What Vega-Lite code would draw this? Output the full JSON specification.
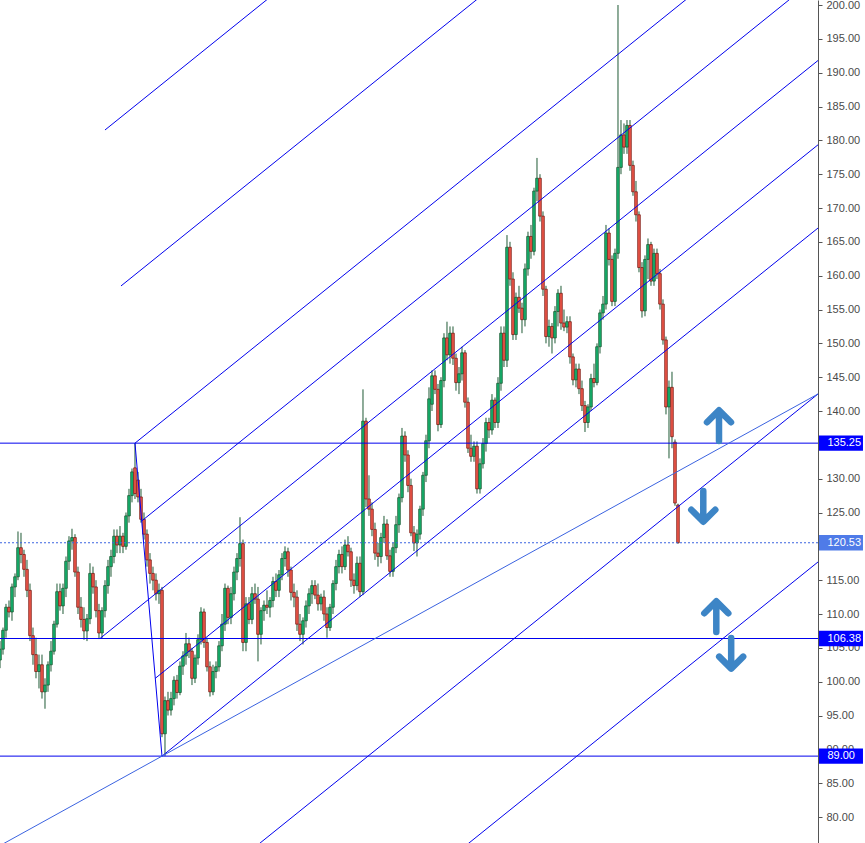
{
  "$schema": "https://vega.github.io/schema/vega-lite/v6.json",
  "width": 818,
  "height": 843,
  "autosize": "none",
  "padding": {"left": 0, "top": 0, "right": 47, "bottom": 0},
  "background": "white",
  "config": {
    "view": {"stroke": null},
    "axisY": {
      "grid": false, "zindex": 0, "format": ".2f", "labelFont": "Liberation Sans", "labelFontSize": 11, "labelColor": "#4a4a4a",
      "domainColor": "#555555", "tickColor": "#555555", "tickSize": 4, "labelPadding": 4, "labelOverlap": false
    }
  },
  "datasets": {
    "candles": [
      {"t":0,"o":103.2,"h":106,"l":102,"c":104.8},{"t":1,"o":104.8,"h":108,"l":104,"c":107.6},{"t":2,"o":107.6,"h":111.5,"l":106.5,"c":111},
      {"t":3,"o":111,"h":112,"l":109.5,"c":110.3},{"t":4,"o":110.3,"h":114.5,"l":109,"c":114},{"t":5,"o":114,"h":116,"l":112.5,"c":115.5},
      {"t":6,"o":115.5,"h":122.2,"l":115,"c":119.8},{"t":7,"o":119.8,"h":122,"l":117.5,"c":118.8},{"t":8,"o":118.8,"h":119.5,"l":115.5,"c":116.6},
      {"t":9,"o":116.6,"h":118,"l":112.5,"c":113.5},{"t":10,"o":113.5,"h":114.5,"l":106,"c":106.8},{"t":11,"o":106.8,"h":108,"l":102.5,"c":104},
      {"t":12,"o":104,"h":106.5,"l":100.5,"c":101.5},{"t":13,"o":101.5,"h":104,"l":99,"c":102.5},{"t":14,"o":102.5,"h":104,"l":97.5,"c":98.5},
      {"t":15,"o":98.5,"h":100.5,"l":96,"c":99.5},{"t":16,"o":99.5,"h":103,"l":98.5,"c":102.5},{"t":17,"o":102.5,"h":106,"l":101.5,"c":104.5},
      {"t":18,"o":104.5,"h":109,"l":104,"c":108.5},{"t":19,"o":108.5,"h":114.5,"l":108,"c":113.3},{"t":20,"o":113.3,"h":114.5,"l":110.5,"c":111.2},
      {"t":21,"o":111.2,"h":114.5,"l":110,"c":113.8},{"t":22,"o":113.8,"h":118.5,"l":112.5,"c":117.8},{"t":23,"o":117.8,"h":121.5,"l":116.5,"c":120.8},
      {"t":24,"o":120.8,"h":122.6,"l":119.5,"c":121.3},{"t":25,"o":121.3,"h":121.8,"l":115.5,"c":116.2},{"t":26,"o":116.2,"h":117,"l":110,"c":111},
      {"t":27,"o":111,"h":112.5,"l":108,"c":109.2},{"t":28,"o":109.2,"h":111,"l":106.2,"c":107.5},{"t":29,"o":107.5,"h":110,"l":106,"c":109.3},
      {"t":30,"o":109.3,"h":117.5,"l":108.5,"c":116},{"t":31,"o":116,"h":117,"l":113,"c":114},{"t":32,"o":114,"h":115,"l":109.5,"c":110.5},
      {"t":33,"o":110.5,"h":111.5,"l":106.3,"c":107.2},{"t":34,"o":107.2,"h":111,"l":106.4,"c":110.5},{"t":35,"o":110.5,"h":115,"l":109.5,"c":114.2},
      {"t":36,"o":114.2,"h":118,"l":113,"c":117},{"t":37,"o":117,"h":119.5,"l":115.5,"c":118.5},{"t":38,"o":118.5,"h":122.5,"l":117.5,"c":121.5},
      {"t":39,"o":121.5,"h":122.5,"l":119,"c":120.2},{"t":40,"o":120.2,"h":123,"l":119,"c":121.5},{"t":41,"o":121.5,"h":122,"l":119,"c":120},
      {"t":42,"o":120,"h":125,"l":119.5,"c":124.5},{"t":43,"o":124.5,"h":128.5,"l":123.5,"c":127.5},{"t":44,"o":127.5,"h":131.5,"l":126.5,"c":131},
      {"t":45,"o":131.6,"h":135.25,"l":127,"c":127.8},{"t":46,"o":129.8,"h":131,"l":126.5,"c":127.3},{"t":47,"o":127.3,"h":128.5,"l":123.5,"c":124},
      {"t":48,"o":124,"h":125,"l":121,"c":121.8},{"t":49,"o":121.8,"h":122.5,"l":117,"c":118},{"t":50,"o":118,"h":119,"l":114.5,"c":116},
      {"t":51,"o":116,"h":117,"l":113.5,"c":115},{"t":52,"o":115,"h":116,"l":112,"c":113},{"t":53,"o":113,"h":114.5,"l":111.5,"c":113.5},
      {"t":54,"o":113.5,"h":114,"l":91.8,"c":92.3},{"t":55,"o":92.3,"h":97.8,"l":89,"c":97.2},{"t":56,"o":97.2,"h":98.5,"l":95,"c":95.8},
      {"t":57,"o":95.8,"h":98.5,"l":95,"c":97.5},{"t":58,"o":97.5,"h":100.8,"l":96.5,"c":100.2},{"t":59,"o":100.2,"h":101,"l":97.5,"c":98.4},
      {"t":60,"o":98.4,"h":103,"l":98,"c":102.3},{"t":61,"o":102.3,"h":104.5,"l":101,"c":103.8},{"t":62,"o":103.8,"h":107.2,"l":102.5,"c":105.6},
      {"t":63,"o":105.6,"h":106.5,"l":103.5,"c":104.5},{"t":64,"o":104.5,"h":105,"l":99.5,"c":100.5},{"t":65,"o":100.5,"h":104,"l":99.8,"c":103.5},
      {"t":66,"o":103.5,"h":107,"l":102.5,"c":106.2},{"t":67,"o":106.2,"h":111,"l":105.5,"c":110.3},{"t":68,"o":110.3,"h":110.8,"l":105,"c":105.8},
      {"t":69,"o":105.8,"h":106.5,"l":101.5,"c":102.2},{"t":70,"o":102.2,"h":103,"l":97.8,"c":98.5},{"t":71,"o":98.5,"h":102.5,"l":98,"c":101.5},
      {"t":72,"o":101.5,"h":103,"l":100.5,"c":102.2},{"t":73,"o":102.2,"h":106,"l":101.5,"c":105.3},{"t":74,"o":105.3,"h":110,"l":104.5,"c":108.5},
      {"t":75,"o":108.5,"h":114.5,"l":107.5,"c":113.8},{"t":76,"o":113.8,"h":114.2,"l":108.5,"c":109.5},{"t":77,"o":109.5,"h":114,"l":108.5,"c":113},
      {"t":78,"o":113,"h":117,"l":112,"c":116.2},{"t":79,"o":116.2,"h":119,"l":115,"c":118.2},{"t":80,"o":118.2,"h":124.3,"l":117,"c":120.4},
      {"t":81,"o":120.4,"h":121,"l":104.5,"c":105.8},{"t":82,"o":105.8,"h":112.5,"l":104.5,"c":111.5},{"t":83,"o":111.5,"h":112.5,"l":108.5,"c":109.2},
      {"t":84,"o":109.2,"h":114,"l":108.5,"c":113},{"t":85,"o":113,"h":114.5,"l":111.5,"c":112.2},{"t":86,"o":112.2,"h":114,"l":103,"c":107},
      {"t":87,"o":107,"h":111,"l":105.5,"c":110.5},{"t":88,"o":110.5,"h":112,"l":109,"c":111.3},{"t":89,"o":111.3,"h":113.5,"l":110,"c":111},
      {"t":90,"o":111,"h":112.5,"l":109.5,"c":112},{"t":91,"o":112,"h":115.5,"l":111,"c":114.8},{"t":92,"o":114.8,"h":116,"l":112.5,"c":113.5},
      {"t":93,"o":113.5,"h":116.5,"l":112.5,"c":115.8},{"t":94,"o":115.8,"h":119,"l":115,"c":118.2},{"t":95,"o":118.2,"h":120,"l":117,"c":119.2},
      {"t":96,"o":119.2,"h":119.8,"l":115.5,"c":116.5},{"t":97,"o":116.5,"h":117,"l":112,"c":113.2},{"t":98,"o":113.2,"h":114.5,"l":111,"c":112.5},
      {"t":99,"o":112.5,"h":113.5,"l":107.5,"c":108.5},{"t":100,"o":108.5,"h":110,"l":106,"c":107},{"t":101,"o":107,"h":109.5,"l":105.5,"c":109},
      {"t":102,"o":109,"h":112,"l":108,"c":111.2},{"t":103,"o":111.2,"h":113.8,"l":110,"c":113},{"t":104,"o":113,"h":115,"l":111.5,"c":114.2},
      {"t":105,"o":114.2,"h":115,"l":112.2,"c":112.8},{"t":106,"o":112.8,"h":114.5,"l":110.5,"c":111.5},{"t":107,"o":111.5,"h":113,"l":110.5,"c":112.5},
      {"t":108,"o":112.5,"h":113.5,"l":109,"c":110},{"t":109,"o":110,"h":111,"l":106.5,"c":108},{"t":110,"o":108,"h":111.5,"l":107.5,"c":111},
      {"t":111,"o":111,"h":115,"l":110,"c":114.5},{"t":112,"o":114.5,"h":118,"l":113.5,"c":117},{"t":113,"o":117,"h":119.5,"l":116,"c":118.8},
      {"t":114,"o":118.8,"h":120,"l":116,"c":117},{"t":115,"o":117,"h":121,"l":116.5,"c":120.2},{"t":116,"o":120.2,"h":121.5,"l":118.5,"c":119.2},
      {"t":117,"o":119.2,"h":119.8,"l":114,"c":115},{"t":118,"o":115,"h":116,"l":113,"c":114.2},{"t":119,"o":114.2,"h":118.5,"l":113.5,"c":117.5},
      {"t":120,"o":117.5,"h":118.5,"l":112.5,"c":113.3},{"t":121,"o":113.3,"h":143.2,"l":112.8,"c":138.5},{"t":122,"o":138.5,"h":139,"l":125.8,"c":127},
      {"t":123,"o":127,"h":130.5,"l":124.5,"c":125.5},{"t":124,"o":125.5,"h":126.5,"l":121.5,"c":122.5},{"t":125,"o":122.5,"h":123.5,"l":118,"c":119},
      {"t":126,"o":119,"h":120.5,"l":117,"c":118.5},{"t":127,"o":118.5,"h":122,"l":117.5,"c":121.3},{"t":128,"o":121.3,"h":124.5,"l":120.5,"c":123.3},
      {"t":129,"o":123.3,"h":124,"l":118,"c":118.6},{"t":130,"o":118.6,"h":119.5,"l":115.5,"c":116.3},{"t":131,"o":116.3,"h":120.5,"l":115.5,"c":119.8},
      {"t":132,"o":119.8,"h":124.5,"l":119,"c":123.2},{"t":133,"o":123.2,"h":127.8,"l":122,"c":127.2},{"t":134,"o":127.2,"h":137.5,"l":126.5,"c":136.3},
      {"t":135,"o":136.3,"h":137,"l":132.5,"c":133.5},{"t":136,"o":133.5,"h":134.2,"l":128,"c":129},{"t":137,"o":129,"h":130,"l":121.5,"c":122},
      {"t":138,"o":122,"h":123,"l":119.3,"c":120.5},{"t":139,"o":120.5,"h":122.5,"l":118.5,"c":121.8},{"t":140,"o":121.8,"h":126,"l":121,"c":125.5},
      {"t":141,"o":125.5,"h":131,"l":124.5,"c":130.5},{"t":142,"o":130.5,"h":136.5,"l":129.5,"c":135.6},{"t":143,"o":135.6,"h":143.5,"l":134.5,"c":141.8},
      {"t":144,"o":141,"h":146,"l":140,"c":145.2},{"t":145,"o":145.2,"h":146,"l":142.5,"c":143.2},{"t":146,"o":143.2,"h":144,"l":137,"c":138},
      {"t":147,"o":138,"h":145,"l":137.5,"c":144.5},{"t":148,"o":144.5,"h":151.5,"l":143.5,"c":150.8},{"t":149,"o":150.8,"h":153.2,"l":147.5,"c":148.3},
      {"t":150,"o":148.3,"h":152.5,"l":147,"c":151.5},{"t":151,"o":151.5,"h":152.5,"l":146.8,"c":147.8},{"t":152,"o":147.8,"h":148.5,"l":143,"c":144.2},
      {"t":153,"o":144.2,"h":146.5,"l":142.5,"c":145.5},{"t":154,"o":145.5,"h":149.5,"l":144.5,"c":148.6},{"t":155,"o":148.6,"h":149,"l":140.5,"c":141.3},
      {"t":156,"o":141.3,"h":142,"l":133.8,"c":134.5},{"t":157,"o":134.5,"h":136.5,"l":132.5,"c":133.3},{"t":158,"o":133.3,"h":135.5,"l":132.5,"c":134.8},
      {"t":159,"o":134.8,"h":135.5,"l":127.8,"c":128.5},{"t":160,"o":128.5,"h":133,"l":127.8,"c":132.2},{"t":161,"o":132.2,"h":136,"l":131.5,"c":135.2},
      {"t":162,"o":135.2,"h":139,"l":134,"c":138.3},{"t":163,"o":138.3,"h":139,"l":136,"c":137.2},{"t":164,"o":137.2,"h":142.5,"l":136.5,"c":141.6},
      {"t":165,"o":141.6,"h":142,"l":137.5,"c":138.3},{"t":166,"o":138.3,"h":145,"l":137.5,"c":144.1},{"t":167,"o":144.1,"h":152.5,"l":143,"c":151.5},
      {"t":168,"o":151.5,"h":152.5,"l":146.5,"c":147.5},{"t":169,"o":147.5,"h":166,"l":146.5,"c":164.2},{"t":170,"o":164.2,"h":165,"l":158.5,"c":159.5},
      {"t":171,"o":159.5,"h":160.5,"l":150.5,"c":151.3},{"t":172,"o":151.3,"h":157.5,"l":150.5,"c":156.8},{"t":173,"o":156.8,"h":158.5,"l":154.5,"c":155.2},
      {"t":174,"o":155.2,"h":156,"l":151.5,"c":153.5},{"t":175,"o":153.5,"h":161.8,"l":152.5,"c":161},{"t":176,"o":161,"h":166.5,"l":160,"c":165.8},
      {"t":177,"o":165.8,"h":167.5,"l":162.5,"c":163.6},{"t":178,"o":163.6,"h":173,"l":163,"c":172.5},{"t":179,"o":172.5,"h":177.4,"l":171,"c":174.4},
      {"t":180,"o":174.4,"h":175,"l":168,"c":168.8},{"t":181,"o":168.8,"h":169.5,"l":157,"c":158},{"t":182,"o":158,"h":158.5,"l":150,"c":151},
      {"t":183,"o":151,"h":153.5,"l":149.5,"c":152.5},{"t":184,"o":152.5,"h":153,"l":148.5,"c":150.8},{"t":185,"o":150.8,"h":155.5,"l":150,"c":154.7},
      {"t":186,"o":154.7,"h":158,"l":152.5,"c":157.4},{"t":187,"o":157.4,"h":158.5,"l":152,"c":153},{"t":188,"o":153,"h":155,"l":151.8,"c":152.4},
      {"t":189,"o":152.4,"h":154,"l":151.5,"c":153.2},{"t":190,"o":153.2,"h":154,"l":147,"c":148},{"t":191,"o":148,"h":148.5,"l":143.8,"c":144.6},
      {"t":192,"o":144.6,"h":147,"l":143.5,"c":146.2},{"t":193,"o":146.2,"h":147,"l":142.5,"c":143.3},{"t":194,"o":143.3,"h":144.5,"l":140,"c":140.8},
      {"t":195,"o":140.8,"h":141.5,"l":136.9,"c":138.3},{"t":196,"o":138.3,"h":141,"l":137.5,"c":140.6},{"t":197,"o":140.6,"h":145.5,"l":140,"c":144.8},
      {"t":198,"o":144.8,"h":147,"l":143.5,"c":144.2},{"t":199,"o":144.2,"h":150,"l":143.8,"c":149.5},{"t":200,"o":149.5,"h":155,"l":148.5,"c":154.5},
      {"t":201,"o":154.5,"h":157,"l":153.5,"c":155.8},{"t":202,"o":155.8,"h":167.5,"l":155,"c":166.3},{"t":203,"o":166.3,"h":167,"l":161.5,"c":162.4},
      {"t":204,"o":162.4,"h":163,"l":155.5,"c":156.2},{"t":205,"o":156.2,"h":164,"l":155.5,"c":163.3},{"t":206,"o":163.3,"h":200,"l":162.5,"c":176},
      {"t":207,"o":176,"h":183,"l":175,"c":180.8},{"t":208,"o":180.8,"h":182.5,"l":178,"c":179},{"t":209,"o":179,"h":183,"l":178,"c":182.2},
      {"t":210,"o":182.2,"h":183,"l":175.5,"c":176.3},{"t":211,"o":176.3,"h":177,"l":171.8,"c":172.4},{"t":212,"o":172.4,"h":174,"l":168,"c":169},
      {"t":213,"o":169,"h":169.5,"l":160.5,"c":161.2},{"t":214,"o":161.2,"h":162,"l":153.8,"c":154.8},{"t":215,"o":154.8,"h":163,"l":154,"c":162.4},
      {"t":216,"o":162.4,"h":165.5,"l":159.5,"c":164.6},{"t":217,"o":164.6,"h":165,"l":158.5,"c":159.2},{"t":218,"o":159.2,"h":164,"l":158.5,"c":163.3},
      {"t":219,"o":163.3,"h":164,"l":159.5,"c":160.3},{"t":220,"o":160.3,"h":161,"l":155,"c":155.8},{"t":221,"o":155.8,"h":156.5,"l":149.8,"c":150.5},
      {"t":222,"o":150.5,"h":151,"l":139.5,"c":140.6},{"t":223,"o":140.6,"h":144.5,"l":133,"c":143.5},{"t":224,"o":143.5,"h":145.8,"l":134.5,"c":136.2},
      {"t":225,"o":135.4,"h":135.8,"l":126,"c":126.4},{"t":226,"o":126.1,"h":126.3,"l":120.4,"c":120.53}
    ],
    "levels": [
      {"level": 135.25, "kind": "level"},
      {"level": 120.53, "kind": "price"},
      {"level": 106.38, "kind": "level"},
      {"level": 89.0, "kind": "level"}
    ],
    "drawings": [
      {"id": "A", "kind": "fork", "t": 35, "p": 181.53}, {"id": "A", "kind": "fork", "t": 272.67, "p": 266.35},
      {"id": "B", "kind": "fork", "t": 40.33, "p": 158.48}, {"id": "B", "kind": "fork", "t": 272.67, "p": 241.4},
      {"id": "C", "kind": "fork", "t": 45, "p": 135.25}, {"id": "C", "kind": "fork", "t": 272.67, "p": 216.51},
      {"id": "D", "kind": "fork", "t": 47.23, "p": 123.75}, {"id": "D", "kind": "fork", "t": 272.67, "p": 204.2},
      {"id": "M", "kind": "fork", "t": 33.33, "p": 106.38}, {"id": "M", "kind": "fork", "t": 272.67, "p": 191.8},
      {"id": "E", "kind": "fork", "t": 51.75, "p": 100.49}, {"id": "E", "kind": "fork", "t": 272.67, "p": 179.34},
      {"id": "F", "kind": "fork", "t": 54, "p": 89.0}, {"id": "F", "kind": "fork", "t": 272.67, "p": 167.04},
      {"id": "G", "kind": "fork", "t": 80, "p": 73.77}, {"id": "G", "kind": "fork", "t": 272.67, "p": 142.52},
      {"id": "H", "kind": "fork", "t": 150, "p": 73.9}, {"id": "H", "kind": "fork", "t": 272.67, "p": 117.69},
      {"id": "P", "kind": "fork", "t": 45, "p": 135.25}, {"id": "P", "kind": "fork", "t": 54, "p": 89.0},
      {"id": "T", "kind": "trend", "t": 0, "p": 75.78}, {"id": "T", "kind": "trend", "t": 272.67, "p": 142.52}
    ],
    "arrows": [
      {"t": 239.67, "p": 137.86, "dir": "up"},
      {"t": 234.43, "p": 125.89, "dir": "down"},
      {"t": 238.77, "p": 109.64, "dir": "up"},
      {"t": 243.73, "p": 104.17, "dir": "down"}
    ]
  },
  "layer": [
    {
      "data": {"name": "candles"},
      "mark": {"type": "rule", "color": "#1f5a35", "strokeWidth": 1},
      "encoding": {
        "x": {"field": "t", "type": "quantitative", "scale": {"domain": [0, 272.67], "nice": false, "zero": false, "padding": 0}, "axis": null},
        "y": {
          "field": "l", "type": "quantitative", "title": null,
          "scale": {"domain": [76.16, 200.74], "nice": false, "zero": false, "padding": 0},
          "axis": {"orient": "right", "title": null, "values": [80, 85, 90, 95, 100, 105, 110, 115, 125, 130, 140, 145, 150, 155, 160, 165, 170, 175, 180, 185, 190, 195, 200]}
        },
        "y2": {"field": "h"}
      }
    },
    {
      "data": {"name": "candles"},
      "mark": {"type": "bar", "size": 2.6, "strokeWidth": 0.8},
      "encoding": {
        "x": {"field": "t", "type": "quantitative", "axis": null},
        "y": {"field": "o", "type": "quantitative", "title": null, "axis": {"orient": "right", "title": null, "values": [80, 85, 90, 95, 100, 105, 110, 115, 125, 130, 140, 145, 150, 155, 160, 165, 170, 175, 180, 185, 190, 195, 200]}},
        "y2": {"field": "c"},
        "fill": {"condition": {"test": "datum.c >= datum.o", "value": "#14b46f"}, "value": "#f0574a"},
        "stroke": {"condition": {"test": "datum.c >= datum.o", "value": "#1d5a33"}, "value": "#7a1e16"}
      }
    },
    {
      "data": {"name": "levels"},
      "mark": {"type": "rule", "strokeWidth": 1},
      "encoding": {
        "y": {"field": "level", "type": "quantitative", "title": null, "axis": {"orient": "right", "title": null, "values": [80, 85, 90, 95, 100, 105, 110, 115, 125, 130, 140, 145, 150, 155, 160, 165, 170, 175, 180, 185, 190, 195, 200]}},
        "color": {"field": "kind", "type": "nominal", "scale": {"domain": ["level", "price"], "range": ["#0000ee", "#3b63e0"]}, "legend": null},
        "strokeDash": {"field": "kind", "type": "nominal", "scale": {"domain": ["level", "price"], "range": [[1, 0], [2, 2]]}, "legend": null}
      }
    },
    {
      "data": {"name": "drawings"},
      "mark": {"type": "line", "strokeWidth": 1, "clip": true},
      "encoding": {
        "x": {"field": "t", "type": "quantitative", "axis": null},
        "y": {"field": "p", "type": "quantitative", "title": null, "axis": {"orient": "right", "title": null, "values": [80, 85, 90, 95, 100, 105, 110, 115, 125, 130, 140, 145, 150, 155, 160, 165, 170, 175, 180, 185, 190, 195, 200]}},
        "detail": {"field": "id"},
        "order": {"field": "t"},
        "color": {"field": "kind", "type": "nominal", "scale": {"domain": ["fork", "trend"], "range": ["#1f1fff", "#3aa98e"]}, "legend": null}
      }
    },
    {
      "data": {"name": "arrows"},
      "mark": {"type": "point", "filled": false, "opacity": 1, "size": 1024, "strokeWidth": 6.5, "strokeCap": "round", "strokeJoin": "round", "color": "#3d85c6"},
      "encoding": {
        "x": {"field": "t", "type": "quantitative", "axis": null},
        "y": {"field": "p", "type": "quantitative", "title": null, "axis": {"orient": "right", "title": null, "values": [80, 85, 90, 95, 100, 105, 110, 115, 125, 130, 140, 145, 150, 155, 160, 165, 170, 175, 180, 185, 190, 195, 200]}},
        "shape": {"field": "dir", "type": "nominal", "scale": {"domain": ["up", "down"], "range": ["M0,0.97L0,-0.9M-0.75,-0.2L0,-0.95L0.75,-0.2", "M0,-0.97L0,0.9M-0.75,0.2L0,0.95L0.75,0.2"]}, "legend": null}
      }
    },
    {
      "data": {"name": "levels"},
      "mark": {"type": "point", "filled": true, "opacity": 1, "size": 1936, "shape": "M-1,-0.35H1V0.35H-1Z", "strokeWidth": 0},
      "encoding": {
        "x": {"datum": 280.33, "type": "quantitative", "axis": null},
        "y": {"field": "level", "type": "quantitative", "title": null, "axis": {"orient": "right", "title": null, "values": [80, 85, 90, 95, 100, 105, 110, 115, 125, 130, 140, 145, 150, 155, 160, 165, 170, 175, 180, 185, 190, 195, 200]}},
        "fill": {"field": "kind", "type": "nominal", "scale": {"domain": ["level", "price"], "range": ["#0000ff", "#4f7be8"]}, "legend": null}
      }
    },
    {
      "data": {"name": "levels"},
      "mark": {"type": "text", "align": "left", "baseline": "middle", "color": "white", "font": "Liberation Sans", "fontSize": 11},
      "encoding": {
        "x": {"datum": 275.8, "type": "quantitative", "axis": null},
        "y": {"field": "level", "type": "quantitative", "title": null, "axis": {"orient": "right", "title": null, "values": [80, 85, 90, 95, 100, 105, 110, 115, 125, 130, 140, 145, 150, 155, 160, 165, 170, 175, 180, 185, 190, 195, 200]}},
        "text": {"field": "level", "type": "quantitative", "format": ".2f"}
      }
    }
  ]
}
